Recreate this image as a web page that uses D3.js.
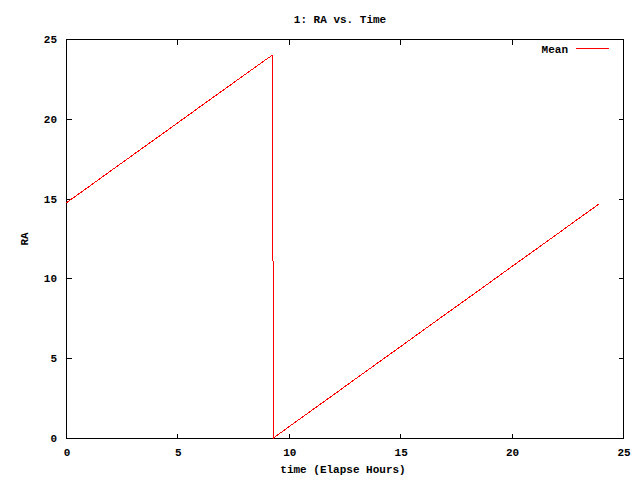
<!DOCTYPE html>
<html>
<head>
<meta charset="utf-8">
<script src="https://cdn.jsdelivr.net/npm/d3@7"></script>
<style>
html,body{margin:0;padding:0;background:#fff;}
svg{display:block;}
text{font-family:"Liberation Mono","DejaVu Sans Mono",monospace;font-weight:bold;font-size:11px;fill:#000;}
</style>
</head>
<body>
<svg id="chart" width="640" height="480"></svg>
<script>
// Data: elapsed hours vs. RA (mean)
const timeHours = [0, 1, 2, 3, 4, 5, 6, 7, 8, 9, 9.28, 9.29, 9.31, 10, 11, 12, 13, 14, 15, 16, 17, 18, 19, 20, 21, 22, 23, 23.94];
const raMean    = [14.72, 15.72, 16.73, 17.73, 18.73, 19.73, 20.74, 21.74, 22.74, 23.74, 24.0, 12.0, 0.0, 0.70, 1.70, 2.70, 3.71, 4.71, 5.71, 6.72, 7.72, 8.72, 9.72, 10.73, 11.73, 12.73, 13.74, 14.68];
const xTicks = [0, 5, 10, 15, 20, 25];
const yTicks = [0, 5, 10, 15, 20, 25];
const seriesName = "Mean";
const titleText = "1: RA vs. Time";
const xLabelText = "time (Elapse Hours)";
const yLabelText = "RA";

const svg = d3.select("#chart");
const L = 66, R = 623, T = 39, B = 438;
const x = d3.scaleLinear().domain([0, 25]).range([L, R]);
const y = d3.scaleLinear().domain([0, 25]).range([B, T]);
const tick = 5;

// frame
svg.append("rect").attr("x", L + 0.5).attr("y", T + 0.5)
  .attr("width", R - L).attr("height", B - T)
  .attr("fill", "none").attr("stroke", "#000").attr("stroke-width", 1)
  .attr("shape-rendering", "crispEdges");

const g = svg.append("g").attr("shape-rendering", "crispEdges").attr("stroke", "#000");
// x ticks (bottom + mirrored top), inward
xTicks.forEach(v => {
  const px = Math.round(x(v)) + 0.5;
  g.append("line").attr("x1", px).attr("x2", px).attr("y1", B + 0.5).attr("y2", B + 0.5 - tick);
  g.append("line").attr("x1", px).attr("x2", px).attr("y1", T + 0.5).attr("y2", T + 0.5 + tick);
});
yTicks.forEach(v => {
  const py = Math.round(y(v)) + 0.5;
  g.append("line").attr("x1", L + 0.5).attr("x2", L + 0.5 + tick).attr("y1", py).attr("y2", py);
  g.append("line").attr("x1", R + 0.5).attr("x2", R + 0.5 - tick).attr("y1", py).attr("y2", py);
});

// tick labels
svg.selectAll("text.xt").data(xTicks).enter().append("text")
  .attr("class", "xt").attr("x", d => x(d) + 1).attr("y", 456)
  .attr("text-anchor", "middle").text(d => d);
svg.selectAll("text.yt").data(yTicks).enter().append("text")
  .attr("class", "yt").attr("x", 57).attr("y", d => y(d) + 4)
  .attr("text-anchor", "end").text(d => d);

// titles
svg.append("text").attr("x", 340).attr("y", 23).attr("text-anchor", "middle").text(titleText);
svg.append("text").attr("x", 343).attr("y", 473).attr("text-anchor", "middle").text(xLabelText);
svg.append("text").attr("transform", "translate(28,239) rotate(-90)")
  .attr("text-anchor", "middle").text(yLabelText);

// series line
const pts = timeHours.map((t, i) => [t, raMean[i]]);
svg.append("path").datum(pts)
  .attr("d", d3.line().x(d => x(d[0])).y(d => y(d[1])))
  .attr("fill", "none").attr("stroke", "#ff0000").attr("stroke-width", 1)
  .attr("shape-rendering", "crispEdges");

// legend
svg.append("text").attr("x", 568).attr("y", 53).attr("text-anchor", "end").text(seriesName);
svg.append("line").attr("x1", 576).attr("x2", 609).attr("y1", 48.5).attr("y2", 48.5)
  .attr("stroke", "#ff0000").attr("stroke-width", 1).attr("shape-rendering", "crispEdges");
</script>
</body>
</html>
